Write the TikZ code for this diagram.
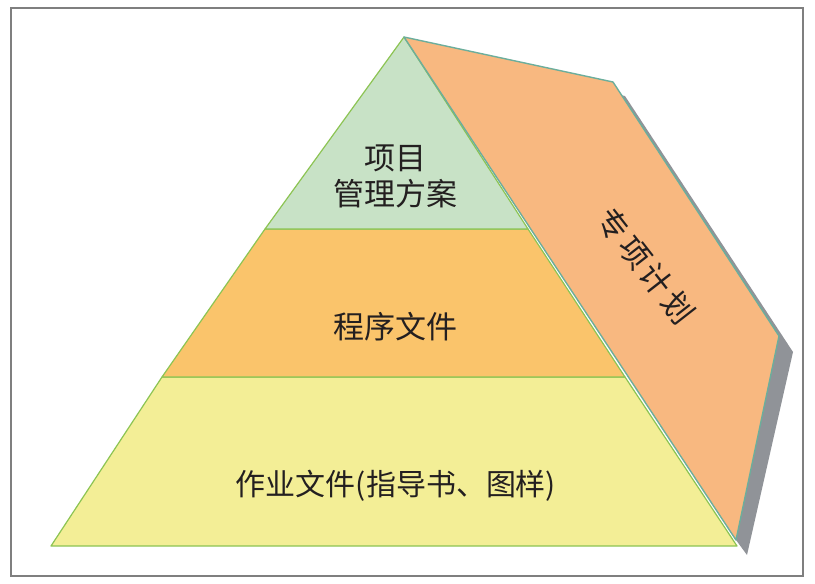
\documentclass[tikz,border=0pt]{standalone}
\usepackage{fontspec}
\newfontfamily\cjk{Noto Sans CJK SC}
\definecolor{frameg}{HTML}{7F7F7F}
\definecolor{topg}{HTML}{C8E2C6}
\definecolor{midor}{HTML}{FAC46B}
\definecolor{boty}{HTML}{F3EE96}
\definecolor{panel}{HTML}{F8B880}
\definecolor{edgeg}{HTML}{8CC453}
\definecolor{edget}{HTML}{6CAE9C}
\definecolor{shad}{HTML}{909398}
\definecolor{txt}{HTML}{231F20}
\tikzset{
  layer/.style={draw=edgeg, line width=1.2pt, line join=round},
  lbl/.style={font=\cjk\fontsize{31}{36}\selectfont, text=txt, align=center, inner sep=0pt},
}
\begin{document}
\begin{tikzpicture}[x=1pt,y=-1pt]
\useasboundingbox (0,0) rectangle (815,584);
\draw[frameg, line width=1.5pt] (11,8) rectangle (803,576);
% pyramid points
\coordinate (A) at (404,37);
\coordinate (L1) at (265,229);
\coordinate (R1) at (528,229);
\coordinate (L2) at (162,377);
\coordinate (R2) at (625,377);
\coordinate (L3) at (51,546);
\coordinate (R3) at (737,546);
% panel points
\coordinate (P1) at (613,82);
\coordinate (P2) at (779,336);
\coordinate (P3) at (736,540);
% shadow
\fill[shad] ([shift={(12,14)}]A) -- ([shift={(12,14)}]P1) -- ([shift={(14,16)}]P2) -- ([shift={(11,15)}]P3) -- (P3) -- cycle;
% layers
\filldraw[layer, fill=boty] (L2) -- (L3) -- (R3) -- (R2) -- cycle;
\filldraw[layer, fill=midor] (L1) -- (L2) -- (R2) -- (R1) -- cycle;
\filldraw[layer, fill=topg] (A) -- (L1) -- (R1) -- cycle;
% panel
\filldraw[draw=edget, fill=panel, line width=1.4pt, line join=round] (A) -- (P1) -- (P2) -- (P3) -- cycle;
% labels
\node[lbl] (t1) at (395,176) {项目\\管理方案};
\node[lbl] (t2) at (395,327) {程序文件};
\node[lbl, font=\cjk\fontsize{30}{36}\selectfont] (t3) at (396,486) {作业文件(指导书、图样)};
\node[lbl, rotate=-52] (t4) at (646,266) {专\hspace{4pt}项\hspace{4pt}计\hspace{4pt}划};
\end{tikzpicture}
\end{document}
